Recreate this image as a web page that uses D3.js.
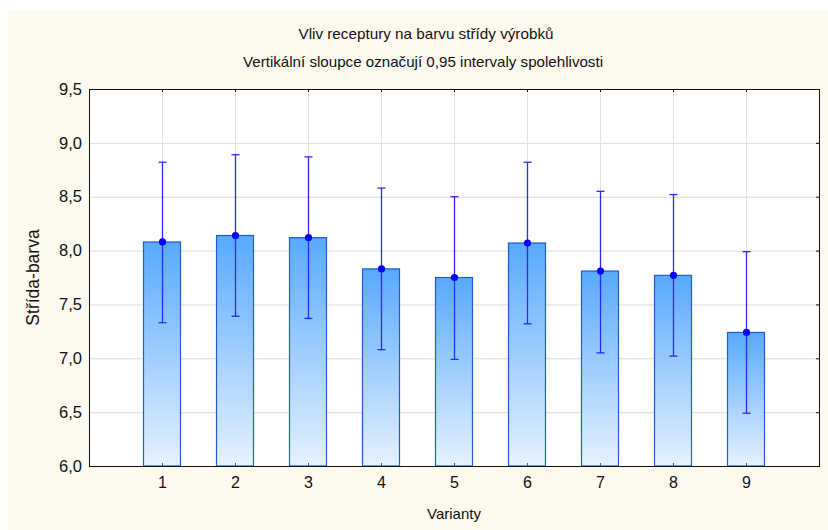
<!DOCTYPE html>
<html><head><meta charset="utf-8">
<script src="https://cdn.jsdelivr.net/npm/d3@7"></script>
<style>body{margin:0;background:#fff}svg{display:block}</style>
</head><body>
<svg id="c" width="828" height="530"></svg>
<script>
const categories = ["1","2","3","4","5","6","7","8","9"];
const means = [8.08, 8.14, 8.12, 7.83, 7.75, 8.07, 7.81, 7.77, 7.24];
const upper = [8.82, 8.89, 8.87, 8.58, 8.50, 8.82, 8.55, 8.52, 7.99];
const lower = [7.33, 7.39, 7.37, 7.08, 6.99, 7.32, 7.05, 7.02, 6.49];
const yTicks = [6.0, 6.5, 7.0, 7.5, 8.0, 8.5, 9.0, 9.5];
const title = "Vliv receptury na barvu střídy výrobků";
const subtitle = "Vertikální sloupce označují 0,95 intervaly spolehlivosti";
const xLabel = "Varianty";
const yLabel = "Střída-barva";

const svg = d3.select("#c");
const L = 89, R = 819, T = 89, B = 466;
svg.append("rect").attr("x",8).attr("y",10).attr("width",820).attr("height",520).attr("fill","#fefaf0");

const x = d3.scaleLinear().domain([0, categories.length+1]).range([L, R]);
const y = d3.scaleLinear().domain([6, 9.5]).range([B, T]);
const fmt = d => d3.format(".1f")(d).replace(".", ",");
const sf = "'Liberation Sans', Arial, sans-serif";

const defs = svg.append("defs");
const g = defs.append("linearGradient").attr("id","bg").attr("x1",0).attr("y1",0).attr("x2",0).attr("y2",1);
g.append("stop").attr("offset","0%").attr("stop-color","#58a9ff");
g.append("stop").attr("offset","100%").attr("stop-color","#e6f2ff");

svg.append("rect").attr("x",L).attr("y",T).attr("width",R-L).attr("height",B-T).attr("fill","#fff");

// grid
svg.append("g").selectAll("line").data(yTicks.slice(1,-1)).join("line")
  .attr("x1",L).attr("x2",R).attr("y1",d=>y(d)+0.5).attr("y2",d=>y(d)+0.5).attr("stroke","#dcdcdc");
svg.append("g").selectAll("line").data(categories).join("line")
  .attr("x1",(d,i)=>x(i+1)+0.5).attr("x2",(d,i)=>x(i+1)+0.5).attr("y1",T).attr("y2",B).attr("stroke","#e2e2e2");

// bars
const bw = 37;
svg.append("g").selectAll("rect").data(means).join("rect")
  .attr("x",(d,i)=>x(i+1)-bw/2).attr("width",bw)
  .attr("y",d=>y(d)).attr("height",d=>B-y(d))
  .attr("fill","url(#bg)").attr("stroke","#1f5ccf").attr("stroke-width",1.2);

// error bars
const eb = svg.append("g").attr("stroke","#2b2bff").attr("stroke-width",1.3);
categories.forEach((c,i)=>{
  const cx = Math.round(x(i+1))+0.5;
  eb.append("line").attr("x1",cx).attr("x2",cx).attr("y1",y(upper[i])).attr("y2",y(lower[i]));
  eb.append("line").attr("x1",cx-4).attr("x2",cx+4).attr("y1",y(upper[i])).attr("y2",y(upper[i]));
  eb.append("line").attr("x1",cx-4).attr("x2",cx+4).attr("y1",y(lower[i])).attr("y2",y(lower[i]));
});
svg.append("g").selectAll("circle").data(means).join("circle")
  .attr("cx",(d,i)=>Math.round(x(i+1))+0.5).attr("cy",d=>y(d)).attr("r",3.6).attr("fill","#0000ff");

// frame
svg.append("rect").attr("x",L+0.5).attr("y",T+0.5).attr("width",R-L).attr("height",B-T)
  .attr("fill","none").attr("stroke","#111");

// axes
const yAxis = svg.append("g").attr("transform",`translate(${L},0)`)
  .call(d3.axisLeft(y).tickValues(yTicks).tickFormat(fmt).tickSize(0).tickPadding(7));
yAxis.select(".domain").remove();
yAxis.selectAll("text").attr("font-family",sf).attr("font-size",16.5).attr("fill","#111");
const yAxisR = svg.append("g").attr("transform",`translate(${R},0)`)
  .call(d3.axisLeft(y).tickValues(yTicks).tickSize(3).tickFormat(""));
yAxisR.select(".domain").remove();
yAxisR.selectAll("line").attr("stroke","#111");

const xAxis = svg.append("g").attr("transform",`translate(0,${B})`)
  .call(d3.axisBottom(x).tickValues(d3.range(1,categories.length+1)).tickFormat(d=>categories[d-1]).tickSize(0).tickPadding(11));
xAxis.select(".domain").remove();
xAxis.selectAll("text").attr("font-family",sf).attr("font-size",16).attr("fill","#111");
const xIn = svg.append("g").attr("transform",`translate(0,${B})`)
  .call(d3.axisTop(x).tickValues(d3.range(1,categories.length+1)).tickSize(3).tickFormat(""));
xIn.select(".domain").remove();
xIn.selectAll("line").attr("stroke","#555");
const xTop = svg.append("g").attr("transform",`translate(0,${T})`)
  .call(d3.axisBottom(x).tickValues(d3.range(1,categories.length+1)).tickSize(3).tickFormat(""));
xTop.select(".domain").remove();
xTop.selectAll("line").attr("stroke","#111");

// titles
svg.append("text").attr("x",426).attr("y",39).attr("text-anchor","middle").attr("font-family",sf)
  .attr("font-size",15).attr("textLength",255).attr("lengthAdjust","spacingAndGlyphs").attr("fill","#111").text(title);
svg.append("text").attr("x",423).attr("y",67).attr("text-anchor","middle").attr("font-family",sf)
  .attr("font-size",15).attr("textLength",360).attr("lengthAdjust","spacingAndGlyphs").attr("fill","#111").text(subtitle);
svg.append("text").attr("x",454).attr("y",519).attr("text-anchor","middle")
  .attr("font-family",sf).attr("font-size",15).attr("fill","#111").text(xLabel);
svg.append("text").attr("transform",`translate(39,${(T+B)/2}) rotate(-90)`).attr("text-anchor","middle")
  .attr("font-family",sf).attr("font-size",17.5).attr("fill","#111").text(yLabel);
</script>
</body></html>
